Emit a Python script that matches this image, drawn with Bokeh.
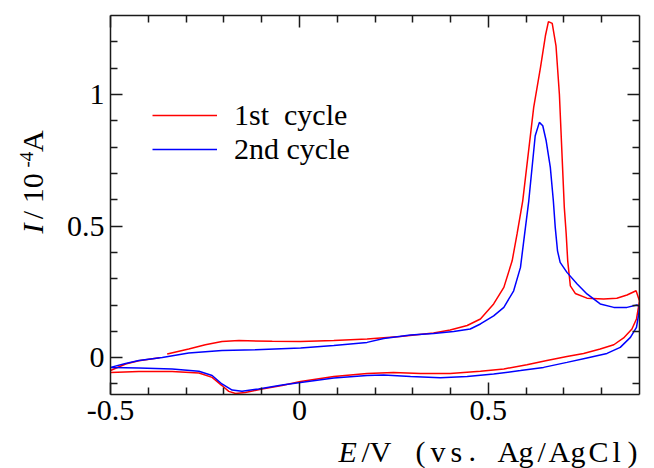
import math
from bokeh.plotting import figure
from bokeh.models import (Range1d, FixedTicker, LinearAxis, Legend, LegendItem,
                          CustomJSTickFormatter)
from bokeh.layouts import row, column
from bokeh.core.properties import value
from bokeh.embed import file_html
from bokeh.resources import INLINE

nan = float("nan")

# ---- data ----
E_1st = [-0.50, -0.46, -0.425, -0.37, nan, -0.35, -0.293, -0.249, -0.205, -0.16, -0.072, 0.003,
         0.091, 0.179, 0.267, 0.355, 0.399, 0.444, 0.479, 0.514, 0.541, 0.563, 0.576, 0.591,
         0.620, 0.638, 0.651, 0.659, 0.669, 0.679, 0.688, 0.701, 0.706, 0.710, 0.717, 0.730,
         0.761, 0.805, 0.840, 0.867, 0.891, 0.900, 0.892, 0.880, 0.858, 0.832, 0.796, 0.752,
         0.708, 0.655, 0.602, 0.541, 0.479, 0.399, 0.320, 0.249, 0.179, 0.091, 0.003, -0.046,
         -0.099, -0.143, -0.169, -0.187, -0.205, -0.231, -0.266, -0.337, -0.425, -0.50]
I_1st = [-0.049, -0.024, -0.012, 0.000, nan, 0.014, 0.033, 0.049, 0.061, 0.065, 0.062, 0.061,
         0.065, 0.071, 0.080, 0.094, 0.105, 0.122, 0.147, 0.204, 0.267, 0.368, 0.470, 0.596,
         0.951, 1.103, 1.223, 1.277, 1.270, 1.185, 1.001, 0.571, 0.470, 0.368, 0.273, 0.244,
         0.226, 0.223, 0.226, 0.238, 0.254, 0.215, 0.147, 0.109, 0.075, 0.049, 0.033, 0.016,
         0.004, -0.011, -0.027, -0.043, -0.052, -0.060, -0.060, -0.056, -0.060, -0.072, -0.091,
         -0.106, -0.119, -0.132, -0.136, -0.128, -0.106, -0.075, -0.058, -0.053, -0.053, -0.056]

E_2nd = [-0.50, -0.46, -0.425, -0.363, -0.293, -0.205, -0.116, 0.003, 0.091, 0.179, 0.223,
         0.294, 0.355, 0.408, 0.452, 0.479, 0.514, 0.541, 0.567, 0.585, 0.596, 0.607, 0.624,
         0.635, 0.644, 0.653, 0.664, 0.672, 0.677, 0.683, 0.690, 0.708, 0.735, 0.761, 0.796,
         0.832, 0.867, 0.893, 0.900, 0.898, 0.892, 0.876, 0.849, 0.814, 0.761, 0.708, 0.646,
         0.585, 0.514, 0.444, 0.373, 0.294, 0.223, 0.179, 0.091, 0.003, -0.046, -0.108, -0.152,
         -0.178, -0.205, -0.231, -0.266, -0.337, -0.425, -0.50]
I_2nd = [-0.037, -0.022, -0.011, 0.001, 0.018, 0.027, 0.030, 0.037, 0.046, 0.058, 0.073,
         0.086, 0.092, 0.099, 0.109, 0.128, 0.159, 0.191, 0.254, 0.343, 0.470, 0.596, 0.843,
         0.894, 0.881, 0.824, 0.723, 0.596, 0.495, 0.406, 0.362, 0.324, 0.280, 0.242, 0.204,
         0.191, 0.191, 0.200, 0.195, 0.166, 0.115, 0.077, 0.039, 0.016, -0.001, -0.018, -0.037,
         -0.049, -0.062, -0.072, -0.076, -0.072, -0.066, -0.068, -0.077, -0.094, -0.104, -0.119,
         -0.128, -0.123, -0.100, -0.068, -0.052, -0.043, -0.039, -0.037]

series_labels = ["1st\u00a0 cycle", "2nd cycle"]
series_colors = ["#ff0000", "#0000ff"]

x_major = [-0.5, 0, 0.5]
x_minor = [-0.4, -0.3, -0.2, -0.1, 0.1, 0.2, 0.3, 0.4, 0.6, 0.7, 0.8]
y_major = [0, 0.5, 1]
y_minor = [-0.1, 0.1, 0.2, 0.3, 0.4, 0.6, 0.7, 0.8, 0.9, 1.1, 1.2]

FONT = "Liberation Serif"
INK = "#1a1a1a"

YLAB_W = 50          # strip on the left holding the rotated y title
MAIN_H = 434         # main plot height; x title strip below it
PAGE_W, PAGE_H = 654, 468

p = figure(frame_width=529, frame_height=379,
           x_range=Range1d(-0.5, 0.9), y_range=Range1d(-0.14, 1.3),
           output_backend="svg", toolbar_location=None,
           x_axis_location=None, y_axis_location=None,
           min_border_left=110 - YLAB_W, min_border_top=15, min_border_right=15,
           min_border_bottom=MAIN_H - 15 - 379)
p.grid.visible = False
p.outline_line_color = None


def style_axis(ax, ticks, minors, show_labels, standoff):
    ax.ticker = FixedTicker(ticks=ticks, minor_ticks=minors)
    ax.axis_line_color = INK
    ax.axis_line_width = 1.5
    ax.major_tick_in = 12
    ax.major_tick_out = 0
    ax.minor_tick_in = 7
    ax.minor_tick_out = 0
    ax.major_tick_line_color = INK
    ax.minor_tick_line_color = INK
    ax.major_tick_line_width = 1.5
    ax.minor_tick_line_width = 1.5
    if show_labels:
        ax.formatter = CustomJSTickFormatter(code="return tick.toString();")
        ax.major_label_text_font = FONT
        ax.major_label_text_font_size = "30px"
        ax.major_label_text_color = "black"
        ax.major_label_standoff = standoff
    else:
        # mirrored frame side: ticks only, no labels drawn
        ax.formatter = CustomJSTickFormatter(code="return '';")
        ax.major_label_text_color = None
        ax.major_label_standoff = 0


bottom = LinearAxis()
style_axis(bottom, x_major, x_minor, True, 6)
p.add_layout(bottom, "below")
top = LinearAxis()
style_axis(top, x_major, x_minor, False, 0)
p.add_layout(top, "above")
left = LinearAxis()
style_axis(left, y_major, y_minor, True, 6)
p.add_layout(left, "left")
right = LinearAxis()
style_axis(right, y_major, y_minor, False, 0)
p.add_layout(right, "right")

r1 = p.line(E_1st, I_1st, line_color=series_colors[0], line_width=1.5)
r2 = p.line(E_2nd, I_2nd, line_color=series_colors[1], line_width=1.5)

legend = Legend(items=[LegendItem(label=series_labels[0], renderers=[r1]),
                       LegendItem(label=series_labels[1], renderers=[r2])],
                location=(42, 228), orientation="vertical",
                glyph_width=65, glyph_height=20, label_height=20, label_width=20,
                label_standoff=17, spacing=-3, padding=0, margin=0,
                label_text_font=FONT, label_text_font_size="30px", label_text_color="black",
                border_line_color=None, background_fill_alpha=0)
p.add_layout(legend, "center")


def text_strip(w, h, x0, y0):
    """A bare figure whose data coordinates equal page pixels (y downward)."""
    f = figure(width=w, height=h, x_range=Range1d(x0, x0 + w), y_range=Range1d(y0 + h, y0),
               output_backend="svg", toolbar_location=None,
               x_axis_location=None, y_axis_location=None,
               min_border_left=0, min_border_right=0, min_border_top=0, min_border_bottom=0)
    f.grid.visible = False
    f.outline_line_color = None
    return f


def put(f, txt, px, py, size="30px", italic=False, angle=0.0, align="left"):
    f.text(x=[px], y=[py], text=[txt], angle=angle,
           text_font=value(FONT), text_font_size=value(size),
           text_font_style=value("italic" if italic else "normal"),
           text_color="black", text_align=align, text_baseline="middle")


# y axis title: I / 10^-4 A (rotated, reading upward); x = middle line of the text
ylab = text_strip(YLAB_W, MAIN_H, 0, 0)
rot = math.pi / 2
put(ylab, "I", 32, 244, italic=True, angle=rot, align="center")
put(ylab, "/ 10", 32, 207, angle=rot, align="center")
put(ylab, "-4", 26, 165, size="19px", angle=rot, align="center")
put(ylab, "A", 32, 144, angle=rot, align="center")

# x axis title: E /V (vs. Ag/AgCl); y = middle line of the text
xlab = text_strip(PAGE_W, PAGE_H - MAIN_H, 0, MAIN_H)
xm = 451
put(xlab, "E", 338, xm, italic=True)
put(xlab, "/V", 361, xm)
for ch, px in [("(", 415), ("v", 430), ("s", 450), (".", 468), ("A", 497), ("g", 518),
               ("/", 537), ("A", 548), ("g", 570), ("C", 588), ("l", 612), (")", 627)]:
    put(xlab, ch, px, xm)

layout = column(row(ylab, p, spacing=0), xlab, spacing=0)

open("out.html", "w").write(file_html(layout, INLINE))
